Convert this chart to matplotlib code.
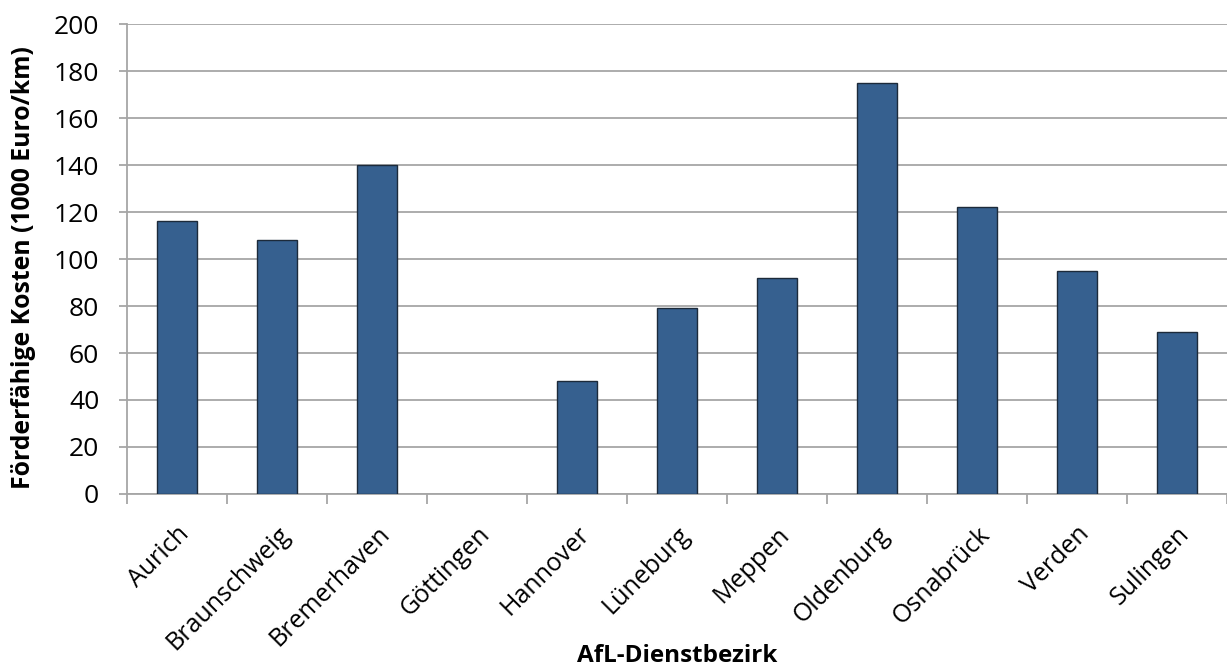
import numpy as np
import matplotlib.pyplot as plt

plt.rcParams['font.family'] = ['Open Sans', 'DejaVu Sans']

bezirke = ['Aurich', 'Braunschweig', 'Bremerhaven', 'Göttingen', 'Hannover',
           'Lüneburg', 'Meppen', 'Oldenburg', 'Osnabrück', 'Verden', 'Sulingen']
kosten = [116, 108, 140, 0, 48, 79, 92, 175, 122, 95, 69]
y_ticks = [0, 20, 40, 60, 80, 100, 120, 140, 160, 180, 200]

fig = plt.figure(figsize=(12.27, 6.68), dpi=100)
ax = fig.add_axes([0.1035, 0.2605, 0.8965, 0.7035])

x = np.arange(len(bezirke))
bars = ax.bar(x, kosten, width=0.4, color='#36608F', edgecolor='#1c2a3a',
              linewidth=1.0, zorder=3)
# empty districts get no outline
for b, v in zip(bars, kosten):
    if v == 0:
        b.set_edgecolor('none')

ax.set_xlim(-0.5, len(bezirke) - 0.5)
ax.set_ylim(0, 200)
ax.set_yticks(y_ticks)
ax.yaxis.grid(True, color='#a6a6a6', linewidth=1.3, zorder=0)

# category ticks sit between the bars, labels in the middle
ax.set_xticks(np.arange(len(bezirke) + 1) - 0.5)
ax.set_xticklabels([])
ax.set_xticks(x, minor=True)
ax.set_xticklabels(bezirke, minor=True, rotation=45, ha='right',
                   rotation_mode='anchor', fontsize=18)
ax.tick_params(axis='x', which='minor', length=0, pad=20)
ax.tick_params(axis='x', which='major', length=7, width=1.3, color='#a6a6a6')
ax.tick_params(axis='y', length=6, width=1.3, color='#a6a6a6', labelsize=19, pad=14)

for s in ['top', 'right']:
    ax.spines[s].set_visible(False)
for s in ['left', 'bottom']:
    ax.spines[s].set_color('#a6a6a6')
    ax.spines[s].set_linewidth(1.3)

ax.set_ylabel('Förderfähige Kosten (1000 Euro/km)', fontsize=17.8, fontweight='bold')
ax.yaxis.set_label_coords(-0.0945, 0.481)
ax.yaxis.label.set_va('center')
ax.set_xlabel('AfL-Dienstbezirk', fontsize=17.5, fontweight='bold')
ax.xaxis.set_label_coords(0.5, -0.345)
ax.xaxis.label.set_va('center')

fig.savefig('out.png', dpi=100)
